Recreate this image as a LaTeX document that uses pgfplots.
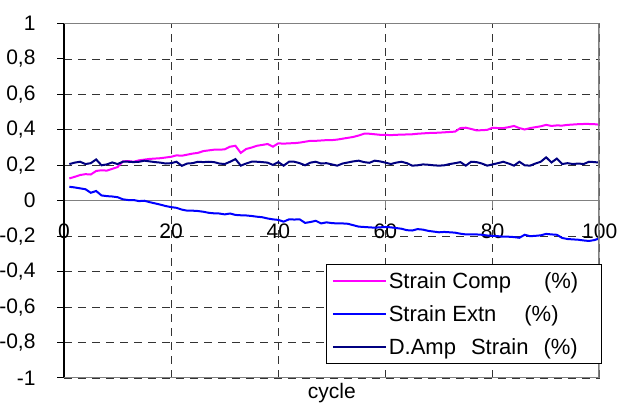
\documentclass[border=0pt]{standalone}
\usepackage{fontspec}
\setmainfont{Liberation Sans}
\usepackage{pgfplots}
\usepackage{pgfplotstable}
\pgfplotsset{compat=1.18}

\definecolor{comp}{HTML}{FF00FF}
\definecolor{extn}{HTML}{0000FF}
\definecolor{amp}{HTML}{000080}

% cycle, strain comp, strain extn, d.amp strain (all in %)
\pgfplotstableread{
cycle comp extn amp
1 0.126 0.079 0.207
2 0.135 0.075 0.215
3 0.145 0.070 0.220
4 0.150 0.065 0.207
5 0.148 0.045 0.212
6 0.168 0.055 0.233
7 0.172 0.030 0.200
8 0.170 0.026 0.205
9 0.180 0.024 0.216
10 0.190 0.020 0.207
11 0.222 0.008 0.220
12 0.224 0.004 0.220
13 0.220 0.004 0.218
14 0.228 -0.002 0.220
15 0.232 0.000 0.226
16 0.236 -0.008 0.222
17 0.238 -0.015 0.218
18 0.240 -0.022 0.215
19 0.244 -0.030 0.210
20 0.248 -0.036 0.212
21 0.256 -0.040 0.220
22 0.254 -0.050 0.197
23 0.260 -0.056 0.210
24 0.266 -0.056 0.212
25 0.270 -0.058 0.220
26 0.280 -0.062 0.218
27 0.284 -0.068 0.220
28 0.288 -0.071 0.218
29 0.288 -0.072 0.210
30 0.290 -0.077 0.207
31 0.305 -0.072 0.220
32 0.310 -0.080 0.235
33 0.270 -0.082 0.198
34 0.292 -0.083 0.210
35 0.300 -0.086 0.220
36 0.310 -0.090 0.220
37 0.315 -0.093 0.218
38 0.320 -0.100 0.215
39 0.305 -0.105 0.202
40 0.324 -0.108 0.218
41 0.322 -0.118 0.198
42 0.324 -0.105 0.220
43 0.325 -0.106 0.220
44 0.328 -0.105 0.212
45 0.333 -0.125 0.200
46 0.338 -0.120 0.215
47 0.338 -0.113 0.220
48 0.340 -0.128 0.210
49 0.342 -0.122 0.212
50 0.342 -0.126 0.205
51 0.345 -0.128 0.198
52 0.350 -0.128 0.210
53 0.355 -0.130 0.216
54 0.360 -0.138 0.222
55 0.368 -0.146 0.226
56 0.378 -0.148 0.218
57 0.378 -0.150 0.214
58 0.375 -0.152 0.226
59 0.372 -0.150 0.222
60 0.372 -0.148 0.215
61 0.370 -0.150 0.207
62 0.372 -0.154 0.215
63 0.373 -0.158 0.220
64 0.374 -0.166 0.212
65 0.375 -0.168 0.198
66 0.378 -0.160 0.200
67 0.380 -0.163 0.205
68 0.382 -0.170 0.203
69 0.383 -0.174 0.200
70 0.384 -0.178 0.198
71 0.386 -0.176 0.200
72 0.388 -0.178 0.207
73 0.390 -0.180 0.212
74 0.410 -0.186 0.218
75 0.412 -0.190 0.198
76 0.405 -0.190 0.220
77 0.397 -0.190 0.218
78 0.398 -0.192 0.210
79 0.400 -0.196 0.198
80 0.412 -0.198 0.205
81 0.410 -0.200 0.212
82 0.410 -0.203 0.220
83 0.415 -0.203 0.210
84 0.422 -0.205 0.198
85 0.410 -0.209 0.220
86 0.402 -0.192 0.200
87 0.410 -0.200 0.198
88 0.415 -0.198 0.210
89 0.420 -0.195 0.220
90 0.428 -0.187 0.245
91 0.422 -0.190 0.216
92 0.425 -0.192 0.238
93 0.424 -0.210 0.207
94 0.428 -0.216 0.212
95 0.430 -0.218 0.207
96 0.432 -0.220 0.210
97 0.433 -0.224 0.207
98 0.433 -0.227 0.220
99 0.432 -0.222 0.218
100 0.429 -0.212 0.215
}\straindata

\begin{document}
\begin{tikzpicture}[font=\fontsize{21}{25}\selectfont]
\useasboundingbox (0,0) rectangle (619pt,403pt);
\begin{axis}[
    at={(64pt,25pt)}, anchor=south west,
    scale only axis,
    width=535.7pt, height=354.5pt,
    xmin=0, xmax=100, ymin=-1, ymax=1,
    axis x line*=middle, axis y line*=left,
    x axis line style={draw=gray, line width=1.3pt},
    y axis line style={draw=black, line width=1.3pt},
    xtick={0,20,...,100},
    ytick={-1,-0.8,-0.6,-0.4,-0.2,0,0.2,0.4,0.6,0.8,1},
    yticklabels={{-1},{-0,8},{-0,6},{-0,4},{-0,2},{0},{0,2},{0,4},{0,6},{0,8},{1}},
    hide obscured x ticks=false, hide obscured y ticks=false,
    tick align=outside,
    major tick length=7pt,
    x tick style={draw=gray, line width=1pt},
    y tick style={draw=black, line width=1pt},
    grid=major,
    major grid style={draw=black!80, line width=0.8pt, dash pattern=on 8pt off 6pt},
    /pgf/number format/assume math mode=true,
    tick label style={font=\fontsize{21}{25}\selectfont},
    x tick label style={yshift=-13pt},
    y tick label style={xshift=-18pt},
    xlabel={cycle},
    xlabel style={at={(rel axis cs:0.5,0)}, anchor=base, yshift=-21pt, font=\fontsize{21}{25}\selectfont},
    legend style={at={(rel axis cs:1,0)}, anchor=south east, xshift=2pt, yshift=14pt,
        draw=black, line width=0.8pt, inner xsep=5pt, inner ysep=6pt, row sep=11.5pt,
        font=\fontsize{22}{26}\selectfont},
    legend cell align=left,
    legend image code/.code={\draw[#1, line width=2pt] (0pt,0pt) -- (53pt,0pt);},
]
\addplot[comp, line width=2pt] table[x=cycle, y=comp] {\straindata};
\addlegendentry{Strain Comp\hspace{33pt}(\%)\kern16pt}
\addplot[extn, line width=2pt] table[x=cycle, y=extn] {\straindata};
\addlegendentry{Strain Extn\hspace{28pt}(\%)}
\addplot[amp, line width=2pt] table[x=cycle, y=amp] {\straindata};
\addlegendentry{D.Amp\hspace{15pt}Strain\hspace{15pt}(\%)}
\draw[gray, line width=1.3pt] (rel axis cs:0,1) -- (rel axis cs:1,1);
\draw[gray, line width=2pt] (rel axis cs:0,0) -- (rel axis cs:1,0);
\draw[gray, line width=2.5pt] (rel axis cs:1,0) -- (rel axis cs:1,1);
\end{axis}
\end{tikzpicture}
\end{document}
